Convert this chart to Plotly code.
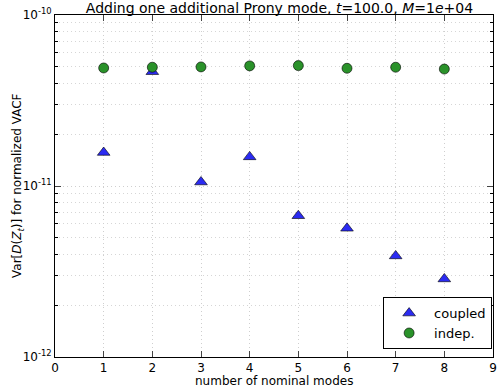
import plotly.graph_objects as go

modes = [1, 2, 3, 4, 5, 6, 7, 8]
coupled = [1.57e-11, 4.66e-11, 1.055e-11, 1.48e-11, 6.7e-12, 5.66e-12, 3.9e-12, 2.86e-12]
indep = [4.9e-11, 4.95e-11, 4.97e-11, 5.04e-11, 5.06e-11, 4.88e-11, 4.95e-11, 4.83e-11]

x_ticks = [0, 1, 2, 3, 4, 5, 6, 7, 8, 9]
y_tickvals = [1e-12, 1e-11, 1e-10]
y_ticktext = ["10<sup>-12</sup>", "10<sup>-11</sup>", "10<sup>-10</sup>"]
y_minor = [m * 1e-12 for m in range(2, 10)] + [m * 1e-11 for m in range(2, 10)]

fig = go.Figure()
fig.add_trace(go.Scatter(x=modes, y=coupled, mode="markers", name="coupled",
                         marker=dict(symbol="triangle-up", size=11, color="#2b2bf2",
                                     line=dict(color="black", width=0.6))))
fig.add_trace(go.Scatter(x=modes, y=indep, mode="markers", name="indep.",
                         marker=dict(symbol="circle", size=10, color="#2a922a",
                                     line=dict(color="black", width=0.6))))

fig.add_annotation(text="number of nominal modes", xref="paper", yref="paper",
                   x=0.5, y=0, yshift=-24, xanchor="center", yanchor="middle",
                   showarrow=False, font=dict(size=12))
fig.add_annotation(text="Var[<i>D</i>(<i>Z<sub>t</sub></i>)] for normalized VACF",
                   xref="paper", yref="paper", x=0, xshift=-37, y=0.5,
                   xanchor="center", yanchor="middle", textangle=-90,
                   showarrow=False, font=dict(size=12))

grid = dict(showgrid=True, gridcolor="#cfcfcf", griddash="1px,3px", gridwidth=1)

fig.update_layout(
    width=499, height=387,
    margin=dict(l=55, r=6, t=15, b=30),
    paper_bgcolor="white", plot_bgcolor="white",
    font=dict(family="DejaVu Sans", size=12, color="black"),
    title=dict(text="Adding one additional Prony mode, <i>t</i>=100.0, <i>M</i>=1<i>e</i>+04",
               x=0.56, xanchor="center", y=0.978, yanchor="middle",
               font=dict(size=14)),
    xaxis=dict(range=[0, 9], tickvals=x_ticks, ticks="inside", ticklen=6,
               showline=True, linecolor="black", linewidth=1, mirror="ticks",
               zeroline=False, automargin=False, **grid),
    yaxis=dict(type="log", range=[-12, -10], tickvals=y_tickvals, ticktext=y_ticktext,
               ticks="inside", ticklen=6,
               showline=True, linecolor="black", linewidth=1, mirror="ticks",
               minor=dict(tickvals=y_minor, ticks="inside", ticklen=3, showgrid=True,
                          gridcolor="#d6d6d6", griddash="1px,3px", tickcolor="black"),
               zeroline=False, automargin=False, **grid),
    legend=dict(x=0.998, y=0.023, xanchor="right", yanchor="bottom",
                bordercolor="black", borderwidth=1, bgcolor="white",
                font=dict(size=13), itemwidth=40),
)

# page body has a default 8px margin; drop it so the figure sits at the window corner
fig.write_html("out.html", config={"displayModeBar": False},
               post_script="document.body.style.margin='0';")
